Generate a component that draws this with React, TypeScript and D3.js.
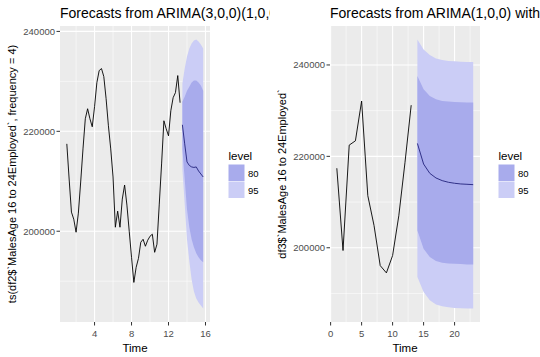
import React from "react";
import * as d3 from "d3";

// ---------- data ----------
// Left chart: ts(df2$`MalesAge 16 to 24Employed`, frequency = 4), quarterly from t = 1
const leftStart = 1;
const leftFreq = 4;
const leftHist = [
  217490, 210450, 203820, 202410, 199800, 203620, 209850, 216480, 222510, 224520,
  222510, 220910, 224930, 229750, 232160, 232560, 230960, 226530, 221110, 216480,
  210860, 200800, 204020, 200800, 206430, 209250, 205230, 200000, 194780, 189750,
  192770, 194570, 197790, 198390, 196990, 198190, 199000, 199400, 195780, 197390,
  205430, 213470, 222110, 220500, 219100, 224120, 226730, 227740, 231160, 225730,
];
const leftFcTime = [13.5, 13.75, 14, 14.25, 14.5, 14.75, 15, 15.25, 15.5, 15.75];
const leftFcMean = [221310, 217490, 213870, 213170, 212870, 212770, 212870, 212060, 211460, 210860];
const leftHi80 = [225930, 226930, 228140, 228940, 229750, 230150, 230150, 229750, 229150, 228140];
const leftLo80 = [216480, 210450, 204420, 200800, 198390, 196790, 195580, 194780, 194170, 193770];
const leftHi95 = [229550, 232560, 234980, 236580, 237590, 238190, 238390, 237990, 237390, 236580];
const leftLo95 = [212460, 205430, 198390, 193970, 190350, 187940, 186530, 185730, 185130, 184520];
const leftXMajor = [4, 8, 12, 16];
const leftXMinor = [2, 6, 10, 14];

// Right chart: df3$`MalesAge 16 to 24Employed`, t = 1..13
const rightHistTime = [1, 2, 3, 4, 5, 6, 7, 8, 9, 10, 11, 12, 13];
const rightHist = [217400, 199400, 222460, 223400, 232100, 211400, 204900, 196100, 194500, 198300, 207000, 218700, 231200];
const rightFcTime = [14, 15, 16, 17, 18, 19, 20, 21, 22, 23];
const rightFcMean = [222830, 218320, 216290, 215270, 214690, 214330, 214110, 213960, 213890, 213810];
const rightHi80 = [237580, 234680, 233220, 232500, 232130, 231990, 231910, 231840, 231770, 231770];
const rightLo80 = [203780, 199780, 197970, 197090, 196730, 196580, 196510, 196440, 196360, 196360];
const rightHi95 = [245580, 243400, 242160, 241440, 241070, 240860, 240790, 240720, 240640, 240640];
const rightLo95 = [193600, 190330, 188510, 187570, 187200, 186980, 186840, 186770, 186700, 186700];
const rightXMajor = [0, 5, 10, 15, 20];
const rightXMinor = [2.5, 7.5, 12.5, 17.5, 22.5];

const yMajor = [200000, 220000, 240000];
const yMinor = [190000, 210000, 230000];
const legendLevels = ["80", "95"];

const leftTitle = "Forecasts from ARIMA(3,0,0)(1,0,0)[4] with non-zero mean";
const rightTitle = "Forecasts from ARIMA(1,0,0) with non-zero mean";
const leftYTitle = "ts(df2$`MalesAge 16 to 24Employed`, frequency = 4)";
const rightYTitle = "df3$`MalesAge 16 to 24Employed`";

// ---------- style ----------
const FONT = "'Liberation Sans', Arial, Helvetica, sans-serif";
const COL80 = "#a8abec";
const COL95 = "#cbcdf6";
const MEANCOL = "#23237c";
const PANEL_BG = "#ebebeb";

type PanelProps = {
  ox: number;
  title: string;
  yTitle: string;
  histT: number[];
  histV: number[];
  fcT: number[];
  mean: number[];
  lo80: number[];
  hi80: number[];
  lo95: number[];
  hi95: number[];
  xMajor: number[];
  xMinor: number[];
};

function expand(ext: [number, number]): [number, number] {
  const r = ext[1] - ext[0];
  return [ext[0] - 0.05 * r, ext[1] + 0.05 * r];
}

function Panel(p: PanelProps) {
  const left = p.ox + 60;
  const right = p.ox + 210;
  const top = 26;
  const bottom = 322;

  const allT = [...p.histT, ...p.fcT];
  const allV = [...p.histV, ...p.lo95, ...p.hi95];
  const x = d3.scaleLinear().domain(expand(d3.extent(allT) as [number, number])).range([left, right]);
  const y = d3.scaleLinear().domain(expand(d3.extent(allV) as [number, number])).range([bottom, top]);

  const idx = d3.range(p.fcT.length);
  const band = (lo: number[], hi: number[]) =>
    d3.area<number>().x((i) => x(p.fcT[i])).y0((i) => y(lo[i])).y1((i) => y(hi[i]))(idx) || "";
  const histLine =
    d3.line<number>().x((i) => x(p.histT[i])).y((i) => y(p.histV[i]))(d3.range(p.histT.length)) || "";
  const meanLine = d3.line<number>().x((i) => x(p.fcT[i])).y((i) => y(p.mean[i]))(idx) || "";

  const cy = (top + bottom) / 2;
  const lx = p.ox + 228.5;

  return (
    <g>
      <text x={left} y={18} fontSize={14} fontFamily={FONT} fill="#000">
        {p.title}
      </text>
      <rect x={left} y={top} width={right - left} height={bottom - top} fill={PANEL_BG} />
      {p.xMinor.map((v) => (
        <line key={"xm" + v} x1={x(v)} x2={x(v)} y1={top} y2={bottom} stroke="#fff" strokeWidth={0.55} />
      ))}
      {yMinor.map((v) => (
        <line key={"ym" + v} x1={left} x2={right} y1={y(v)} y2={y(v)} stroke="#fff" strokeWidth={0.55} />
      ))}
      {p.xMajor.map((v) => (
        <line key={"xM" + v} x1={x(v)} x2={x(v)} y1={top} y2={bottom} stroke="#fff" strokeWidth={1.1} />
      ))}
      {yMajor.map((v) => (
        <line key={"yM" + v} x1={left} x2={right} y1={y(v)} y2={y(v)} stroke="#fff" strokeWidth={1.1} />
      ))}
      <path d={band(p.lo95, p.hi95)} fill={COL95} />
      <path d={band(p.lo80, p.hi80)} fill={COL80} />
      <path d={histLine} fill="none" stroke="#000" strokeWidth={0.9} />
      <path d={meanLine} fill="none" stroke={MEANCOL} strokeWidth={0.9} />

      {/* y axis */}
      {yMajor.map((v) => (
        <g key={"yt" + v}>
          <line x1={left - 3.5} x2={left} y1={y(v)} y2={y(v)} stroke="#333" strokeWidth={1} />
          <text x={left - 5} y={y(v) + 3.4} fontSize={9.5} textAnchor="end" fontFamily={FONT} fill="#4d4d4d">
            {v}
          </text>
        </g>
      ))}
      {/* x axis */}
      {p.xMajor.map((v) => (
        <g key={"xt" + v}>
          <line x1={x(v)} x2={x(v)} y1={bottom} y2={bottom + 3.5} stroke="#333" strokeWidth={1} />
          <text x={x(v)} y={bottom + 14.5} fontSize={9.5} textAnchor="middle" fontFamily={FONT} fill="#4d4d4d">
            {v}
          </text>
        </g>
      ))}
      <text x={(left + right) / 2} y={351.5} fontSize={11.5} textAnchor="middle" fontFamily={FONT} fill="#000">
        Time
      </text>
      <text
        transform={`translate(${p.ox + 15.5},${cy}) rotate(-90)`}
        fontSize={11}
        textAnchor="middle"
        fontFamily={FONT}
        fill="#000"
      >
        {p.yTitle}
      </text>

      {/* legend */}
      <text x={lx} y={160} fontSize={11.5} fontFamily={FONT} fill="#000">
        level
      </text>
      {legendLevels.map((lv, i) => (
        <g key={lv}>
          <rect x={lx} y={164.5 + i * 17} width={16} height={16.5} fill={lv === "80" ? COL80 : COL95} />
          <text x={lx + 19.5} y={176.5 + i * 17} fontSize={9.5} fontFamily={FONT} fill="#000">
            {lv}
          </text>
        </g>
      ))}
    </g>
  );
}

export default function App() {
  const leftTimes = leftHist.map((_, i) => leftStart + i / leftFreq);
  return (
    <svg
      width={540}
      height={357}
      style={{ position: "absolute", left: 0, top: 0, background: "#fff" }}
      xmlns="http://www.w3.org/2000/svg"
    >
      <defs>
        <clipPath id="clipL">
          <rect x={0} y={0} width={270} height={357} />
        </clipPath>
        <clipPath id="clipR">
          <rect x={270} y={0} width={270} height={357} />
        </clipPath>
      </defs>
      <rect x={0} y={0} width={540} height={357} fill="#fff" />
      <g clipPath="url(#clipL)">
        <Panel
          ox={0}
          title={leftTitle}
          yTitle={leftYTitle}
          histT={leftTimes}
          histV={leftHist}
          fcT={leftFcTime}
          mean={leftFcMean}
          lo80={leftLo80}
          hi80={leftHi80}
          lo95={leftLo95}
          hi95={leftHi95}
          xMajor={leftXMajor}
          xMinor={leftXMinor}
        />
      </g>
      <g clipPath="url(#clipR)">
        <Panel
          ox={270}
          title={rightTitle}
          yTitle={rightYTitle}
          histT={rightHistTime}
          histV={rightHist}
          fcT={rightFcTime}
          mean={rightFcMean}
          lo80={rightLo80}
          hi80={rightHi80}
          lo95={rightLo95}
          hi95={rightHi95}
          xMajor={rightXMajor}
          xMinor={rightXMinor}
        />
      </g>
    </svg>
  );
}
